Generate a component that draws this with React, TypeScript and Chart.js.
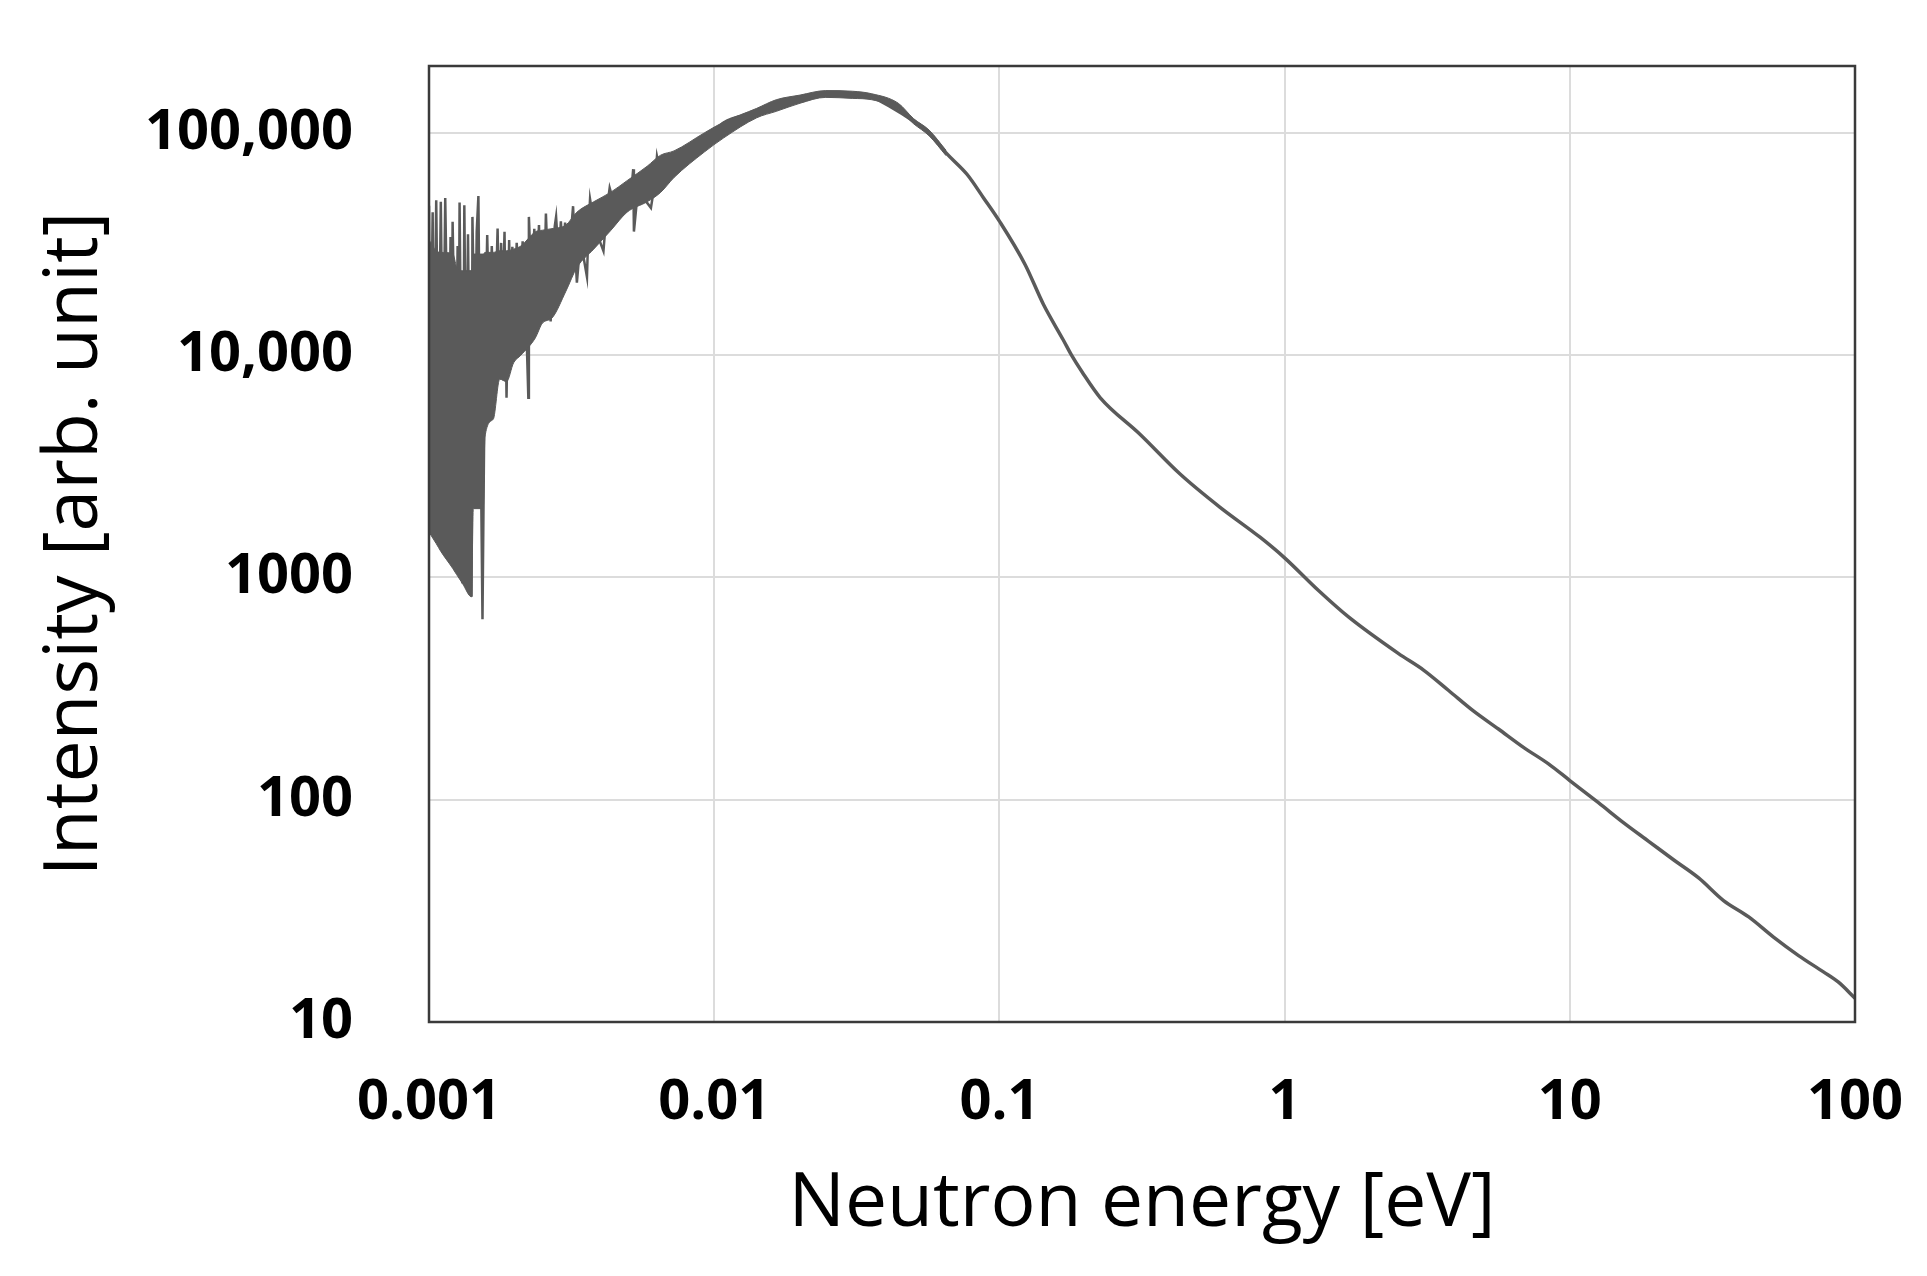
import { useEffect, useRef } from 'react'
import Chart from 'chart.js/auto'

// ─── palette ────────────────────────────────────────────────────────────────
const C = {
  line: '#5a5a5a',
  grid: '#dcdcdc',
  frame: '#3a3a3a',
  text: '#000000',
}
const FONT = "'Open Sans', sans-serif"

// ─── axes ───────────────────────────────────────────────────────────────────
const X_TICKS = [0.001, 0.01, 0.1, 1, 10, 100]
const X_LABELS = ['0.001', '0.01', '0.1', '1', '10', '100']
const Y_TICKS = [10, 100, 1000, 10000, 100000]
const Y_LABELS = ['10', '100', '1000', '10,000', '100,000']

// ─── noisy low-energy band: lower / upper edge of the solid grey area ─────────
const BAND_E = [
  0.001, 0.00106, 0.0011, 0.00121, 0.00125, 0.00131, 0.00141, 0.00143, 0.00155, 0.00157,
  0.00168, 0.00177, 0.00187, 0.00198, 0.0021, 0.00236, 0.0025, 0.0027, 0.00302, 0.0033,
  0.00378, 0.00433, 0.00495, 0.00582, 0.00649, 0.00723, 0.00923, 0.0108, 0.0141, 0.0165,
  0.02, 0.0246, 0.0305, 0.0357, 0.0442, 0.05, 0.0567, 0.065,
]
const BAND_LOW = [
  1600, 1420, 1310, 1100, 1030, 940, 818, 2040, 2040, 4270,
  5150, 7800, 7600, 9240, 10000, 11960, 13960, 14700, 19400, 24800,
  30000, 36300, 44000, 49000, 54000, 63000, 82000, 95000, 117000, 125000,
  136000, 144500, 143000, 141000, 127000, 110000, 97000, 79000,
]
const BAND_HIGH = [
  33000, 29500, 29000, 28700, 25000, 24000, 24000, 28500, 28500, 29000,
  29000, 29500, 29500, 30000, 31000, 35900, 36500, 37100, 38500, 44000,
  49000, 54000, 61000, 70800, 79400, 83000, 100000, 112000, 129000, 141000,
  148000, 155000, 154000, 150000, 136000, 116000, 103000, 83500,
]

// ─── spikes sticking out of the band (tip / band value alternating) ───────────
const SPIKE_E = [
  0.001, 0.00101, 0.00103, 0.00104, 0.00106, 0.00108, 0.0011, 0.00112, 0.00114, 0.00117,
  0.00119, 0.0012, 0.00121, 0.00124, 0.00126, 0.00127, 0.00128, 0.0013, 0.00131, 0.00133,
  0.00135, 0.00137, 0.00139, 0.00141, 0.00142, 0.00145, 0.00147, 0.00149, 0.00151, 0.00154,
  0.00157, 0.0016, 0.00163, 0.00166, 0.0017, 0.00174, 0.00176, 0.00179, 0.00181, 0.00184,
  0.00187, 0.00189, 0.00191, 0.00193, 0.00196, 0.002, 0.00203, 0.00208, 0.00213, 0.00218,
  0.00223, 0.00224, 0.00229, 0.00234, 0.00238, 0.00243, 0.00246, 0.0025, 0.00254, 0.00257,
  0.00262, 0.00267, 0.00273, 0.00276, 0.00279, 0.00285, 0.0029, 0.00295, 0.003, 0.0031,
  0.0032, 0.00325, 0.0033, 0.0034, 0.00358, 0.00362, 0.00367, 0.0038, 0.00409, 0.0042,
  0.0043, 0.0045, 0.0051, 0.0052, 0.00523, 0.0054, 0.006, 0.0062, 0.0063, 0.0065,
]
const SPIKE_I = [
  47000, 6000, 44000, 6000, 49800, 6000, 49000, 6000, 50900, 6000,
  34000, 6000, 39800, 6000, 31000, 6000, 48600, 6000, 940, 47300,
  6000, 35000, 6000, 818, 41900, 8000, 36000, 52000, 8000, 649,
  10000, 34700, 12000, 31000, 12000, 37100, 15000, 32000, 15000, 35900,
  6440, 15000, 33000, 15000, 30700, 18000, 32000, 18000, 32500, 18000,
  6440, 41900, 20000, 37000, 20000, 38500, 22000, 36000, 22000, 43400,
  22000, 14200, 25000, 38000, 41900, 27000, 40000, 27000, 39500, 28000,
  46800, 30000, 21200, 33000, 22500, 36000, 50300, 38000, 29400, 45000,
  56600, 46000, 52000, 68700, 36000, 55000, 46000, 60000, 78500, 65000,
]

// ─── main spectrum ──────────────────────────────────────────────────────────
const MAIN_E = [
  0.0089, 0.01, 0.0108, 0.0141, 0.0165, 0.02, 0.0246, 0.0305, 0.0357, 0.0416,
  0.05, 0.0567, 0.065, 0.0771, 0.088, 0.1, 0.123, 0.1426, 0.1675, 0.179,
  0.195, 0.2254, 0.311, 0.43, 0.594, 0.82, 1, 1.315, 1.675, 2.51,
  3.07, 3.76, 4.59, 5.62, 6.88, 8.42, 10, 12.6, 15.5, 18.9,
  23.1, 28.3, 34.6, 42.4, 51.8, 63.4, 77.5, 87.5, 100,
]
const MAIN_I = [
  92000, 100000, 111000, 123000, 134000, 142000, 150000, 148600, 145000, 131000,
  113000, 100000, 81300, 65000, 51000, 40100, 25600, 16950, 11700, 10000,
  8400, 6450, 4410, 2920, 2068, 1517, 1225, 873, 664, 454,
  383, 310, 251, 208, 172, 145, 122, 97, 78.5, 65,
  53.7, 44.5, 35.2, 29.7, 24.1, 19.9, 16.8, 15.1, 12.8,
]

const pts = (xs: number[], ys: number[]) => xs.map((x, i) => ({ x, y: ys[i] }))

// full box around the plot area
const frame = {
  id: 'frame',
  afterDatasetsDraw(chart: Chart) {
    const { ctx, chartArea: a } = chart
    ctx.save()
    ctx.strokeStyle = C.frame
    ctx.lineWidth = 2.5
    ctx.strokeRect(a.left, a.top, a.right - a.left, a.bottom - a.top)
    ctx.restore()
  },
}

function SpectrumChart() {
  const canvasRef = useRef<HTMLCanvasElement>(null)

  useEffect(() => {
    const canvas = canvasRef.current
    if (!canvas) return
    const base = { pointRadius: 0, tension: 0, borderColor: C.line }
    const smooth = { cubicInterpolationMode: 'monotone' as const }
    const chart = new Chart(canvas, {
      type: 'line',
      data: {
        datasets: [
          { ...base, ...smooth, data: pts(BAND_E, BAND_LOW), borderWidth: 1, fill: false },
          {
            ...base,
            ...smooth,
            data: pts(BAND_E, BAND_HIGH),
            borderWidth: 1,
            fill: '-1',
            backgroundColor: C.line,
          },
          { ...base, data: pts(SPIKE_E, SPIKE_I), borderWidth: 2.5, fill: false },
          { ...base, ...smooth, data: pts(MAIN_E, MAIN_I), borderWidth: 3.5, fill: false },
        ],
      },
      options: {
        responsive: false,
        devicePixelRatio: 1,
        animation: false,
        layout: { padding: { top: 66, right: 72, bottom: 0, left: 0 } },
        plugins: { legend: { display: false }, tooltip: { enabled: false } },
        scales: {
          x: {
            type: 'logarithmic',
            min: 0.001,
            max: 100,
            afterBuildTicks: (s) => {
              s.ticks = X_TICKS.map((value) => ({ value }))
            },
            // fixed axis band; label overhang is covered by the layout padding
            afterFit: (s) => {
              s.height = 254
              s.paddingLeft = 0
              s.paddingRight = 0
            },
            grid: { color: C.grid, lineWidth: 2, drawTicks: false },
            border: { display: false },
            ticks: {
              autoSkip: false,
              maxRotation: 0,
              padding: 47,
              color: C.text,
              font: { family: FONT, size: 56, weight: 'bold' },
              callback: (v) => X_LABELS[X_TICKS.indexOf(Number(v))] ?? '',
            },
            title: {
              display: true,
              text: 'Neutron energy [eV]',
              color: C.text,
              font: { family: FONT, size: 75, lineHeight: 1.2 },
              padding: { top: 0, bottom: 26 },
            },
          },
          y: {
            type: 'logarithmic',
            min: 10,
            max: 200000,
            afterBuildTicks: (s) => {
              s.ticks = Y_TICKS.map((value) => ({ value }))
            },
            afterFit: (s) => {
              s.width = 429
              s.paddingTop = 0
              s.paddingBottom = 0
            },
            grid: { color: C.grid, lineWidth: 2, drawTicks: false },
            border: { display: false },
            ticks: {
              autoSkip: false,
              padding: 76,
              color: C.text,
              font: { family: FONT, size: 56, weight: 'bold' },
              callback: (v) => Y_LABELS[Y_TICKS.indexOf(Number(v))] ?? '',
            },
            title: {
              display: true,
              text: 'Intensity [arb. unit]',
              color: C.text,
              font: { family: FONT, size: 75, lineHeight: 1.2 },
              padding: { top: 31, bottom: 0 },
            },
          },
        },
      },
      plugins: [frame],
    })
    return () => chart.destroy()
  }, [])

  return <canvas ref={canvasRef} width={1927} height={1276} style={{ display: 'block' }} />
}

export default function App() {
  useEffect(() => {
    document.body.style.margin = '0'
    document.body.style.background = '#ffffff'
  }, [])
  return <SpectrumChart />
}
